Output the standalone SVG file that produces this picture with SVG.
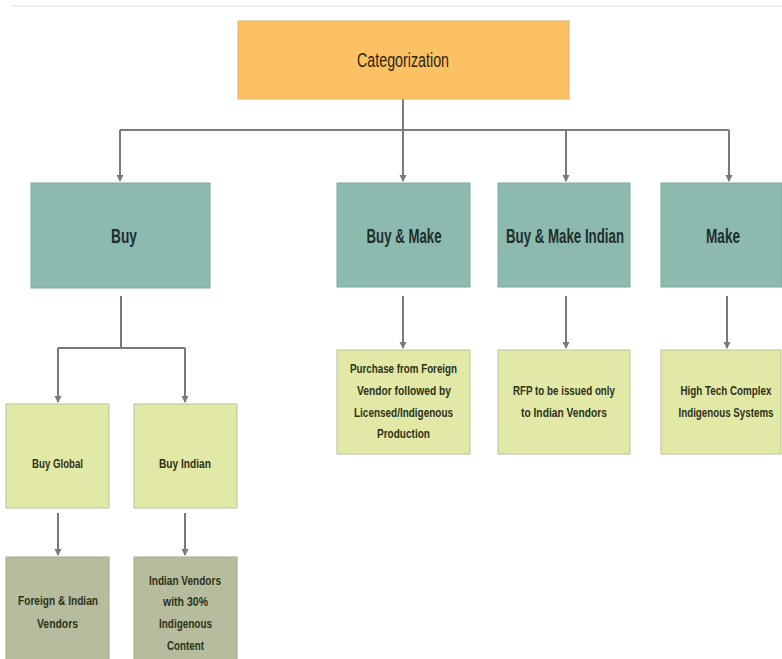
<svg xmlns="http://www.w3.org/2000/svg" width="782" height="659" viewBox="0 0 782 659">
<style>
.t{font-family:"Liberation Sans Narrow","Liberation Sans",Arial,sans-serif;text-anchor:middle}
.big{font-size:20px;font-weight:bold;fill:#1e2e2c}
.cat{font-size:20px;fill:#2f230e}
.sm{font-size:13px;font-weight:bold;fill:#2e3116}
.xs{font-size:12px}
.cat-box{fill:#FBC163;stroke:#d9b070;stroke-width:1}
.teal{fill:#8DBAAF;stroke:#7fa99f;stroke-width:1}
.lite{fill:#E2E9A6;stroke:#b7c29a;stroke-width:1}
.olive{fill:#B6BD9E;stroke:#a3aa8c;stroke-width:1}
.ln{stroke:#7a7a7a;stroke-width:2;fill:none}
</style>
<defs>
<marker id="ah" markerWidth="8" markerHeight="8" refX="6" refY="4" orient="auto" markerUnits="userSpaceOnUse">
<path d="M0,0.5 L7,4 L0,7.5 Z" fill="#7a7a7a"/>
</marker>
</defs>
<rect width="782" height="659" fill="#fff"/>
<line x1="12" y1="6" x2="782" y2="6" stroke="#eeeeee" stroke-width="2"/>
<g id="connectors">
<path class="ln" d="M403,99 V130"/>
<path class="ln" d="M120,130 H729"/>
<path class="ln" d="M120,130 V181" marker-end="url(#ah)"/>
<path class="ln" d="M403,130 V181" marker-end="url(#ah)"/>
<path class="ln" d="M566,130 V181" marker-end="url(#ah)"/>
<path class="ln" d="M729,130 V181" marker-end="url(#ah)"/>
<path class="ln" d="M121,296 V348"/>
<path class="ln" d="M58,348 H185"/>
<path class="ln" d="M58,348 V402" marker-end="url(#ah)"/>
<path class="ln" d="M185,348 V402" marker-end="url(#ah)"/>
<path class="ln" d="M403,296 V348" marker-end="url(#ah)"/>
<path class="ln" d="M566,296 V348" marker-end="url(#ah)"/>
<path class="ln" d="M727,296 V348" marker-end="url(#ah)"/>
<path class="ln" d="M58,513 V555" marker-end="url(#ah)"/>
<path class="ln" d="M185,513 V555" marker-end="url(#ah)"/>
</g>
<g id="categorization">
<rect class="cat-box" x="238" y="21" width="331" height="78"/>
<text class="t cat" x="403" y="67" textLength="92" lengthAdjust="spacingAndGlyphs">Categorization</text>
</g>
<g id="buy">
<rect class="teal" x="31" y="183" width="179" height="105"/>
<text class="t big" x="124" y="243" textLength="26" lengthAdjust="spacingAndGlyphs">Buy</text>
</g>
<g id="buy-make">
<rect class="teal" x="337" y="183" width="133" height="104"/>
<text class="t big" x="404" y="243" textLength="75" lengthAdjust="spacingAndGlyphs">Buy &amp; Make</text>
</g>
<g id="buy-make-indian">
<rect class="teal" x="498" y="183" width="132" height="104"/>
<text class="t big" x="565" y="243" textLength="118" lengthAdjust="spacingAndGlyphs">Buy &amp; Make Indian</text>
</g>
<g id="make">
<rect class="teal" x="661" y="183" width="121" height="104"/>
<text class="t big" x="723" y="243" textLength="34" lengthAdjust="spacingAndGlyphs">Make</text>
</g>
<g id="purchase-foreign">
<rect class="lite" x="337" y="350" width="133" height="104"/>
<text class="t sm" x="403.5" y="373" textLength="107" lengthAdjust="spacingAndGlyphs">Purchase from Foreign</text>
<text class="t sm" x="404" y="395" textLength="94" lengthAdjust="spacingAndGlyphs">Vendor followed by</text>
<text class="t sm" x="403.5" y="417" textLength="99" lengthAdjust="spacingAndGlyphs">Licensed/Indigenous</text>
<text class="t sm" x="403.5" y="438" textLength="53" lengthAdjust="spacingAndGlyphs">Production</text>
</g>
<g id="rfp">
<rect class="lite" x="498" y="350" width="132" height="104"/>
<text class="t sm" x="564" y="395" textLength="102" lengthAdjust="spacingAndGlyphs">RFP to be issued only</text>
<text class="t sm" x="564" y="417" textLength="86" lengthAdjust="spacingAndGlyphs">to Indian Vendors</text>
</g>
<g id="high-tech">
<rect class="lite" x="661" y="350" width="120" height="104"/>
<text class="t sm xs" x="726" y="395" textLength="91" lengthAdjust="spacingAndGlyphs">High Tech Complex</text>
<text class="t sm xs" x="726" y="417" textLength="95" lengthAdjust="spacingAndGlyphs">Indigenous Systems</text>
</g>
<g id="buy-global">
<rect class="lite" x="6" y="404" width="103" height="104"/>
<text class="t sm" x="57.5" y="468" textLength="51" lengthAdjust="spacingAndGlyphs">Buy Global</text>
</g>
<g id="buy-indian">
<rect class="lite" x="134" y="404" width="103" height="104"/>
<text class="t sm" x="185" y="468" textLength="52" lengthAdjust="spacingAndGlyphs">Buy Indian</text>
</g>
<g id="foreign-indian-vendors">
<rect class="olive" x="6" y="557" width="103" height="104"/>
<text class="t sm" x="58" y="605" textLength="80" lengthAdjust="spacingAndGlyphs">Foreign &amp; Indian</text>
<text class="t sm" x="57.5" y="628" textLength="41" lengthAdjust="spacingAndGlyphs">Vendors</text>
</g>
<g id="indian-vendors-30">
<rect class="olive" x="134" y="557" width="103" height="104"/>
<text class="t sm" x="185" y="585" textLength="72" lengthAdjust="spacingAndGlyphs">Indian Vendors</text>
<text class="t sm" x="185.5" y="606" textLength="45" lengthAdjust="spacingAndGlyphs">with 30%</text>
<text class="t sm" x="185.5" y="628" textLength="53" lengthAdjust="spacingAndGlyphs">Indigenous</text>
<text class="t sm" x="185.5" y="650" textLength="37" lengthAdjust="spacingAndGlyphs">Content</text>
</g>
</svg>
